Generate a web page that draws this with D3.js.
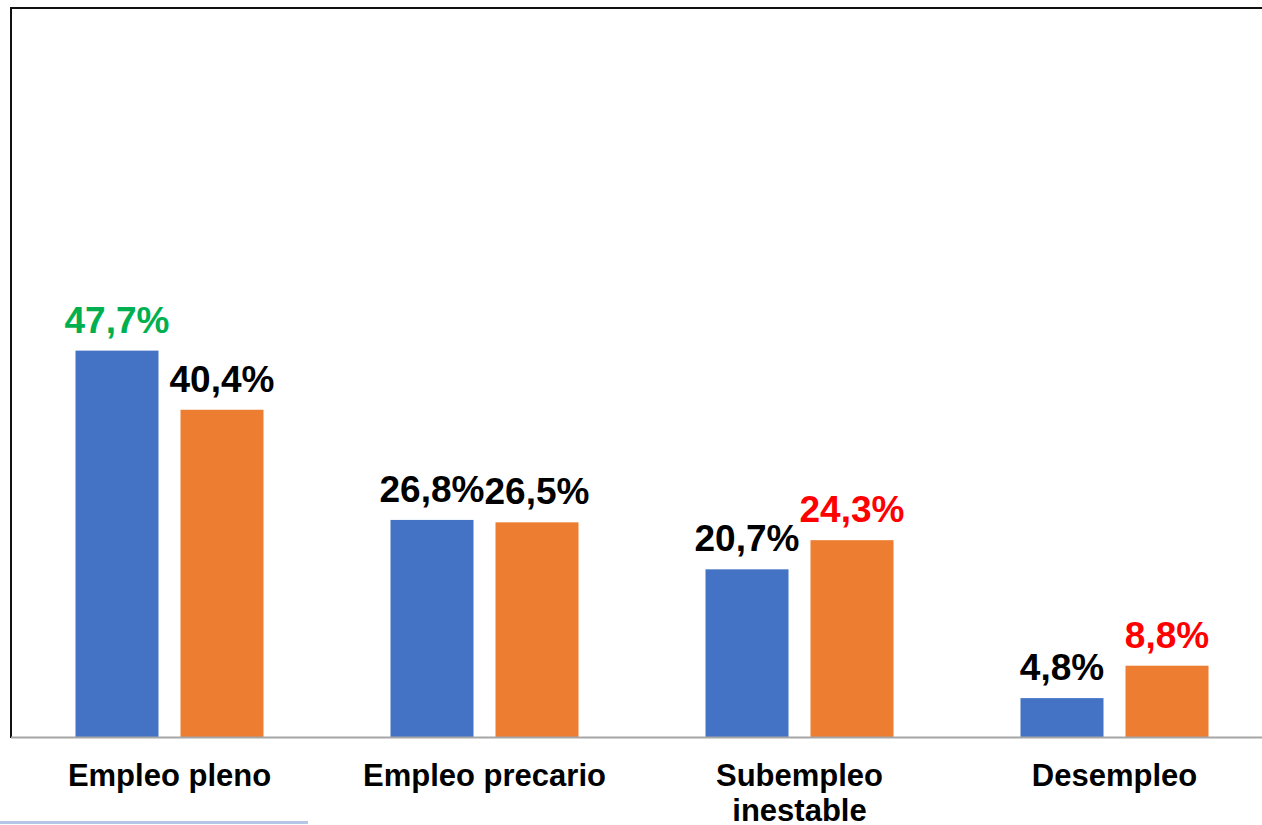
<!DOCTYPE html>
<html>
<head>
<meta charset="utf-8">
<script src="https://cdn.jsdelivr.net/npm/d3@7"></script>
<style>
  body { margin: 0; background: #fff; }
  svg { display: block; font-family: "Liberation Sans", Arial, sans-serif; }
</style>
</head>
<body>
<div id="chart"></div>
<script>
// categories and the two series (values in %)
const categories = ["Empleo pleno", "Empleo precario", "Subempleo\ninestable", "Desempleo"];
const seriesNames = ["A", "B"];
const seriesA = [47.7, 26.8, 20.7, 4.8];
const seriesB = [40.4, 26.5, 24.3, 8.8];
// label colour for each value (green = highlight, red = worse)
const labelColorsA = ["#00B050", "#000000", "#000000", "#000000"];
const labelColorsB = ["#000000", "#000000", "#FF0000", "#FF0000"];

const width = 1262, height = 825;
const colors = {A: "#4472C4", B: "#ED7D31"};

const svg = d3.select("#chart")
  .append("svg")
  .attr("width", width)
  .attr("height", height);

// x scales: one band per category, then one per series inside it
const x = d3.scaleBand()
  .domain(categories)
  .range([12, 1272])
  .padding(0);

const xInner = d3.scaleBand()
  .domain(seriesNames)
  .range([-94, 94])
  .paddingInner(22 / 105)
  .paddingOuter(0);

const y = d3.scaleLinear()
  .domain([0, 90])
  .range([737, 8]);

// build rows from the arrays
const rows = [];
categories.forEach(function (c, i) {
  rows.push({cat: c, s: "A", v: seriesA[i], col: labelColorsA[i]});
  rows.push({cat: c, s: "B", v: seriesB[i], col: labelColorsB[i]});
});

// plot frame: top and left border
svg.append("line")
  .attr("x1", 10).attr("x2", width)
  .attr("y1", 8).attr("y2", 8)
  .attr("stroke", "#111").attr("stroke-width", 2);
svg.append("line")
  .attr("x1", 11).attr("x2", 11)
  .attr("y1", 7).attr("y2", 738)
  .attr("stroke", "#111").attr("stroke-width", 2);

// bars
svg.append("g")
  .selectAll("rect")
  .data(rows)
  .enter()
  .append("rect")
    .attr("x", function (d) { return x(d.cat) + x.bandwidth() / 2 + xInner(d.s); })
    .attr("y", function (d) { return y(d.v); })
    .attr("width", xInner.bandwidth())
    .attr("height", function (d) { return y(0) - y(d.v); })
    .attr("fill", function (d) { return colors[d.s]; });

// value labels
svg.append("g")
  .selectAll("text")
  .data(rows)
  .enter()
  .append("text")
    .attr("x", function (d) { return x(d.cat) + x.bandwidth() / 2 + xInner(d.s) + xInner.bandwidth() / 2; })
    .attr("y", function (d) { return y(d.v) - 18; })
    .attr("text-anchor", "middle")
    .attr("font-size", 37)
    .attr("font-weight", "bold")
    .attr("fill", function (d) { return d.col; })
    .text(function (d) { return d.v.toFixed(1).replace(".", ",") + "%"; });

// baseline
svg.append("line")
  .attr("x1", 11).attr("x2", width)
  .attr("y1", y(0) + 0.5).attr("y2", y(0) + 0.5)
  .attr("stroke", "#a6a6a6").attr("stroke-width", 2);

// category labels (can wrap on two lines)
const catLabels = svg.append("g")
  .selectAll("text")
  .data(categories)
  .enter()
  .append("text")
    .attr("x", function (d) { return x(d) + x.bandwidth() / 2; })
    .attr("y", 786)
    .attr("text-anchor", "middle")
    .attr("font-size", 31)
    .attr("font-weight", "bold")
    .attr("fill", "#000");

catLabels.each(function (d) {
  const t = d3.select(this);
  d.split("\n").forEach(function (line, i) {
    t.append("tspan")
      .attr("x", x(d) + x.bandwidth() / 2)
      .attr("dy", i === 0 ? 0 : 35)
      .text(line);
  });
});

// thin blue line at the bottom left
svg.append("line")
  .attr("x1", 0).attr("x2", 308)
  .attr("y1", 822.5).attr("y2", 822.5)
  .attr("stroke", "#b4c7e7").attr("stroke-width", 3);
</script>
</body>
</html>
